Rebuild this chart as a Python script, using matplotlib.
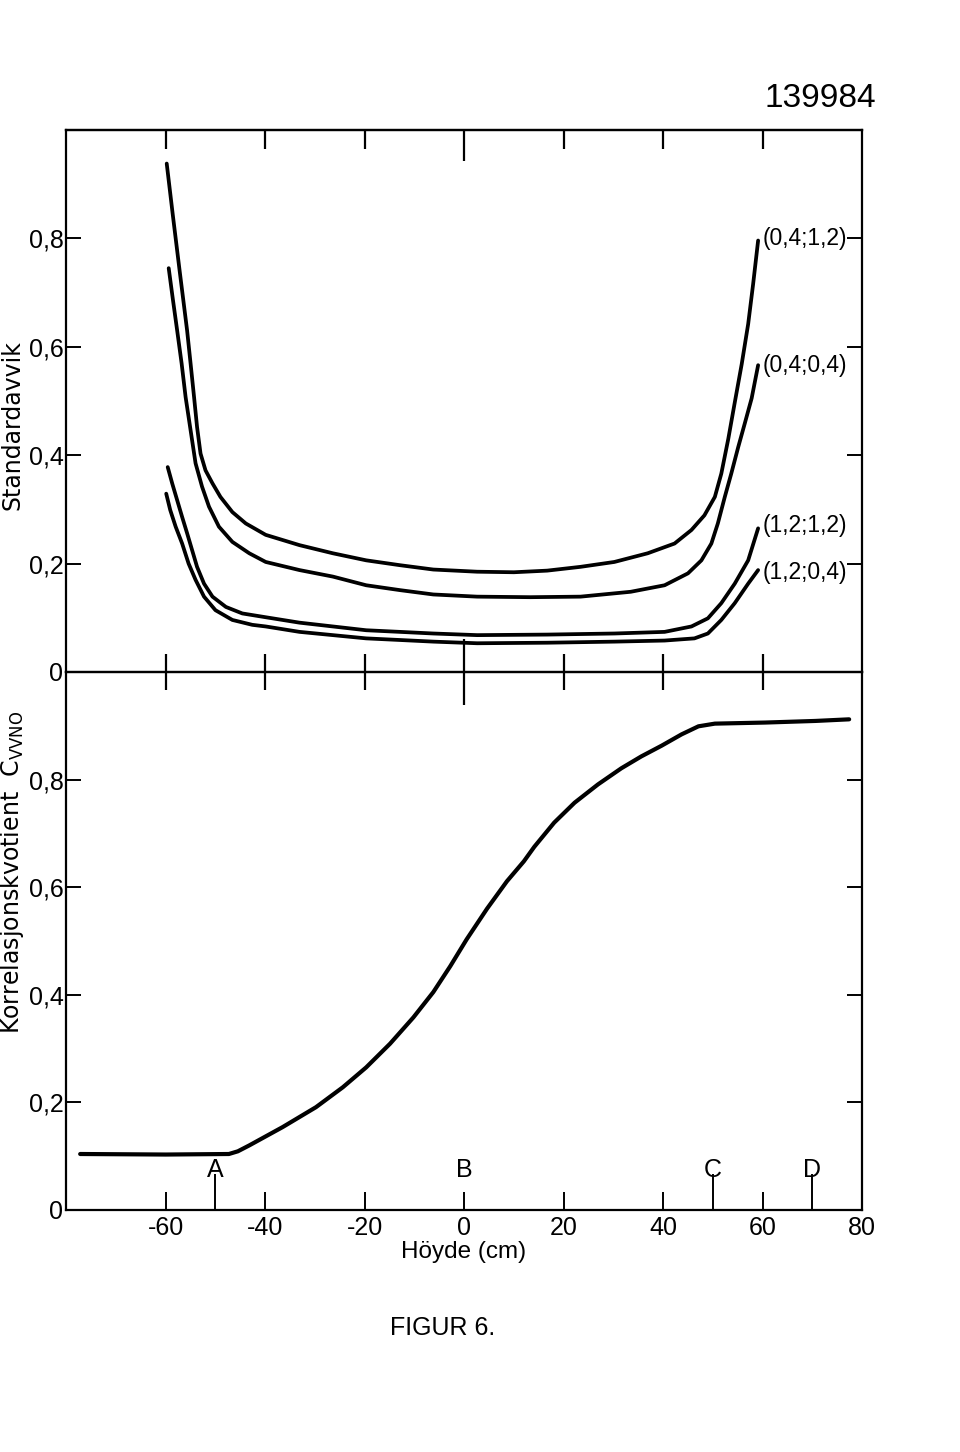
import matplotlib.pyplot as plt

# standardavvik-kurver (x = hoyde i cm)
c1_x = [-59.8, -58.6, -57.2, -55.7, -55.0, -54.3, -53.7, -53.0, -52.0, -50.6, -49.0, -46.6, -43.9, -39.9, -33.1,
        -26.4, -19.7, -12.9, -6.2, 2.6, 10.0, 16.7, 23.4, 30.2, 36.9, 42.3, 45.7, 48.3, 50.4, 51.7, 53.1, 54.4,
        55.8, 57.1, 58.1, 59.1]
c1_y = [0.938, 0.845, 0.74, 0.630, 0.569, 0.507, 0.452, 0.403, 0.372, 0.348, 0.323, 0.295, 0.274, 0.253, 0.234,
        0.219, 0.206, 0.197, 0.189, 0.185, 0.184, 0.187, 0.194, 0.203, 0.219, 0.237, 0.262, 0.289, 0.323, 0.366,
        0.43, 0.497, 0.568, 0.642, 0.716, 0.796]

c2_x = [-59.4, -58.6, -57.7, -56.8, -56.0, -55.0, -54.0, -52.7, -51.3, -49.3, -46.6, -43.2, -39.9, -33.1, -26.4,
        -19.7, -12.9, -6.2, 2.6, 13.3, 23.4, 33.5, 40.3, 45.0, 47.7, 49.7, 51.0, 52.4, 53.7, 55.1, 56.4, 57.8, 59.1]
c2_y = [0.745, 0.69, 0.630, 0.569, 0.507, 0.446, 0.385, 0.342, 0.305, 0.268, 0.240, 0.219, 0.203, 0.188, 0.176,
        0.160, 0.151, 0.143, 0.139, 0.138, 0.139, 0.148, 0.160, 0.182, 0.206, 0.237, 0.274, 0.323, 0.366, 0.415,
        0.458, 0.505, 0.566]

c3_x = [-59.6, -58.7, -57.7, -56.7, -55.7, -54.7, -53.7, -52.3, -50.6, -47.9, -44.6, -39.9, -33.1, -26.4, -19.7,
        -12.9, -6.2, 2.6, 16.7, 30.2, 40.3, 45.7, 49.0, 51.7, 54.4, 57.1, 59.1]
c3_y = [0.378, 0.348, 0.317, 0.286, 0.256, 0.225, 0.194, 0.163, 0.139, 0.120, 0.108, 0.101, 0.091, 0.084, 0.077,
        0.074, 0.071, 0.068, 0.069, 0.071, 0.074, 0.084, 0.099, 0.127, 0.163, 0.206, 0.265]

c4_x = [-59.9, -59.1, -58.0, -56.7, -55.4, -54.0, -52.3, -50.0, -46.6, -42.6, -39.9, -33.1, -26.4, -19.7, -12.9,
        -6.2, 2.6, 16.7, 30.2, 40.3, 46.3, 49.0, 51.7, 54.4, 57.1, 59.1]
c4_y = [0.329, 0.299, 0.268, 0.237, 0.200, 0.170, 0.139, 0.114, 0.096, 0.087, 0.084, 0.074, 0.068, 0.062, 0.059,
        0.056, 0.053, 0.054, 0.056, 0.058, 0.062, 0.071, 0.096, 0.127, 0.163, 0.188]

kurver = [(c1_x, c1_y), (c2_x, c2_y), (c3_x, c3_y), (c4_x, c4_y)]
kurve_navn = ["(0,4;1,2)", "(0,4;0,4)", "(1,2;1,2)", "(1,2;0,4)"]
navn_y = [0.80, 0.566, 0.27, 0.184]

# korrelasjonskvotient
k_x = [-77.2, -60.0, -47.3, -45.5, -43.2, -36.5, -29.8, -24.4, -19.7, -14.9, -10.2, -6.2, -2.8, 0.5, 4.6, 8.6,
       12.0, 14.1, 18.1, 22.2, 26.9, 31.6, 35.6, 39.7, 43.7, 47.1, 50.4, 60.5, 70.6, 77.4]
k_y = [0.104, 0.103, 0.104, 0.109, 0.120, 0.154, 0.191, 0.228, 0.265, 0.309, 0.358, 0.405, 0.453, 0.503, 0.560,
       0.611, 0.648, 0.675, 0.720, 0.757, 0.791, 0.821, 0.843, 0.863, 0.884, 0.899, 0.904, 0.906, 0.909, 0.912]

bokstaver = ["A", "B", "C", "D"]
bokstav_x = [-50, 0, 50, 70]

x_ticks = [-60, -40, -20, 0, 20, 40, 60, 80]
x_labels = ["-60", "-40", "-20", "0", "20", "40", "60", "80"]
y_ticks = [0, 0.2, 0.4, 0.6, 0.8]
y_labels = ["0", "0,2", "0,4", "0,6", "0,8"]

smal = ["Liberation Sans", "DejaVu Sans"]
plt.rcParams['font.family'] = ["DejaVu Sans"]
plt.rcParams['axes.linewidth'] = 1.6

fig = plt.figure(figsize=(9.6, 14.52), dpi=100)
ax1 = fig.add_axes([0.069, 0.5372, 0.829, 0.3733])
ax2 = fig.add_axes([0.069, 0.1667, 0.829, 0.3705])
ax2.patch.set_visible(False)

for (x, y) in kurver:
    ax1.plot(x, y, color='black', lw=2.7, solid_capstyle='round', solid_joinstyle='round')
for navn, ny in zip(kurve_navn, navn_y):
    ax1.text(60.0, ny, navn, ha='left', va='center', fontsize=16.5, family=smal)

ax1.set_xlim(-80, 80)
ax1.set_ylim(0, 1.0)
ax1.set_xticks([-60, -40, -20, 20, 40, 60])
ax1.set_xticks([0], minor=True)
ax1.tick_params(axis='x', which='major', direction='inout', length=26, width=1.6, labelbottom=False)
ax1.tick_params(axis='x', which='minor', direction='inout', length=48, width=1.6, labelbottom=False)
ax1.set_yticks(y_ticks)
ax1.set_yticklabels(y_labels, family=smal)
ax1.tick_params(axis='y', direction='in', length=11, width=1.4, right=True, labelsize=18, pad=2)

sec = ax1.secondary_xaxis('top')
sec.set_xticks([-60, -40, -20, 20, 40, 60])
sec.set_xticks([0], minor=True)
sec.tick_params(axis='x', which='major', direction='in', length=14, width=1.6, labeltop=False)
sec.tick_params(axis='x', which='minor', direction='in', length=22, width=1.6, labeltop=False)

ax2.plot(k_x, k_y, color='black', lw=3.0, solid_capstyle='round', solid_joinstyle='round')
ax2.set_xlim(-80, 80)
ax2.set_ylim(0, 1.0)
ax2.set_xticks(x_ticks)
ax2.set_xticklabels(x_labels, family=smal)
ax2.set_xticks(bokstav_x, minor=True)
ax2.tick_params(axis='x', which='major', direction='in', length=13, width=1.4, labelsize=18, pad=4)
ax2.tick_params(axis='x', which='minor', direction='in', length=26, width=1.4)
ax2.set_yticks(y_ticks)
ax2.set_yticklabels(y_labels, family=smal)
ax2.tick_params(axis='y', direction='in', length=11, width=1.4, right=True, labelsize=18, pad=2)
for b, bx in zip(bokstaver, bokstav_x):
    ax2.text(bx, 0.074, b, ha='center', va='center', fontsize=18, family=smal)

fig.text(0.013, 0.707, "Standardavvik", rotation=90, ha='center', va='center', fontsize=17)
fig.text(0.013, 0.399, r"Korrelasjonskvotient  C$_{\mathregular{VVNO}}$", rotation=90,
         ha='center', va='center', fontsize=17)
fig.text(0.483, 0.138, "Höyde (cm)", ha='center', va='center', fontsize=17.5, family=smal)
fig.text(0.854, 0.932, "139984", ha='center', va='center', fontsize=24, family=smal)
fig.text(0.461, 0.0854, "FIGUR 6.", ha='center', va='center', fontsize=18, family=smal)

fig.savefig("out.png", dpi=100, facecolor='white')
